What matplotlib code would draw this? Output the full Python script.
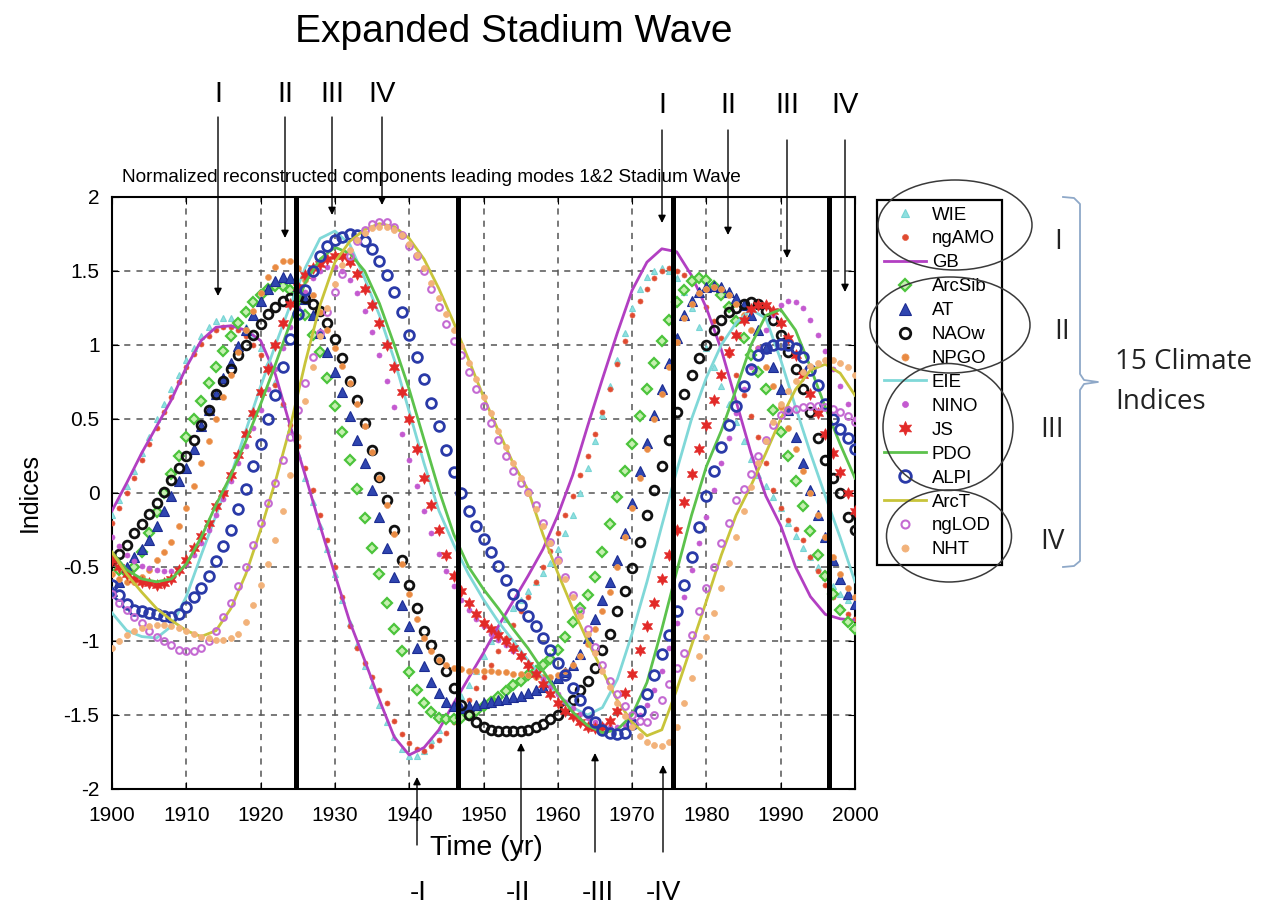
import matplotlib
matplotlib.use('Agg')
import matplotlib.pyplot as plt
from matplotlib.patches import Ellipse
from matplotlib.lines import Line2D

plt.rcParams['font.family'] = ['Liberation Sans', 'DejaVu Sans']
plt.rcParams['axes.unicode_minus'] = False

# ---------------- data ----------------
years = list(range(1900, 2001))          # annual samples (marker series)
years2 = list(range(1900, 2001, 2))      # line series samples

WIE = [-0.15, -0.05, 0.05, 0.15, 0.27, 0.38, 0.5, 0.6, 0.7, 0.8,
       0.9, 0.98, 1.06, 1.12, 1.16, 1.18, 1.18, 1.16, 1.12, 1.06,
       0.98, 0.88, 0.75, 0.6, 0.43, 0.26, 0.1, -0.06, -0.22, -0.38,
       -0.55, -0.72, -0.88, -1.03, -1.17, -1.3, -1.43, -1.55, -1.65, -1.73,
       -1.78, -1.78, -1.74, -1.67, -1.6, -1.52, -1.44, -1.37, -1.3, -1.2,
       -1.1, -1.0, -0.92, -0.85, -0.78, -0.72, -0.66, -0.6, -0.54, -0.47,
       -0.38, -0.27, -0.15, 0.0, 0.17, 0.35, 0.53, 0.72, 0.9, 1.08,
       1.25, 1.38, 1.46, 1.5, 1.52, 1.5, 1.45, 1.36, 1.25, 1.12,
       0.98, 0.85, 0.72, 0.6, 0.48, 0.35, 0.23, 0.12, 0.05, -0.03,
       -0.1, -0.2, -0.29, -0.37, -0.43, -0.5, -0.57, -0.63, -0.68, -0.72,
       -0.75]
ngAMO = [-0.2, -0.1, 0.0, 0.1, 0.22, 0.33, 0.44, 0.55, 0.65, 0.75,
         0.85, 0.94, 1.01, 1.06, 1.1, 1.12, 1.12, 1.1, 1.06, 1.0,
         0.93, 0.84, 0.73, 0.6, 0.46, 0.32, 0.17, 0.02, -0.15, -0.32,
         -0.5, -0.7, -0.9, -1.05, -1.15, -1.24, -1.33, -1.42, -1.54, -1.63,
         -1.69, -1.73, -1.74, -1.71, -1.67, -1.62, -1.55, -1.48, -1.4, -1.32,
         -1.24, -1.16, -1.07, -0.98, -0.89, -0.8, -0.7, -0.6, -0.5, -0.39,
         -0.27, -0.15, -0.02, 0.12, 0.25, 0.4, 0.55, 0.7, 0.87, 1.03,
         1.2, 1.3, 1.38, 1.45, 1.5, 1.52, 1.5, 1.47, 1.42, 1.35,
         1.26, 1.16, 1.05, 0.93, 0.8, 0.66, 0.52, 0.38, 0.2, 0.02,
         -0.1, -0.18, -0.24, -0.32, -0.43, -0.53, -0.62, -0.7, -0.77, -0.82,
         -0.85]
GB = [-0.12, 0.07, 0.27, 0.45, 0.63, 0.85, 1.03, 1.12, 1.13, 1.1,
      1.03, 0.8, 0.45, 0.12, -0.22, -0.55, -0.87, -1.13, -1.4, -1.65,
      -1.77, -1.72, -1.6, -1.42, -1.25, -1.08, -0.9, -0.73, -0.56, -0.38,
      -0.15, 0.12, 0.45, 0.77, 1.08, 1.37, 1.56, 1.65, 1.63, 1.47,
      1.25, 0.97, 0.62, 0.27, -0.02, -0.22, -0.5, -0.7, -0.82, -0.85,
      -0.86]
ArcSib = [-0.45, -0.52, -0.54, -0.5, -0.4, -0.27, -0.13, 0.0, 0.13, 0.25,
          0.38, 0.5, 0.62, 0.74, 0.85, 0.96, 1.06, 1.15, 1.22, 1.29,
          1.34, 1.38, 1.4, 1.4, 1.37, 1.3, 1.2, 1.07, 0.95, 0.78,
          0.59, 0.41, 0.22, 0.03, -0.17, -0.37, -0.55, -0.74, -0.92, -1.07,
          -1.21, -1.33, -1.42, -1.48, -1.52, -1.53, -1.53, -1.52, -1.5, -1.47,
          -1.44, -1.41, -1.38, -1.34, -1.3, -1.27, -1.23, -1.2, -1.16, -1.12,
          -1.06, -0.97, -0.87, -0.78, -0.69, -0.57, -0.4, -0.21, -0.03, 0.15,
          0.33, 0.52, 0.7, 0.88, 1.03, 1.17, 1.29, 1.37, 1.43, 1.45,
          1.44, 1.4, 1.34, 1.26, 1.16, 1.05, 0.93, 0.82, 0.7, 0.56,
          0.41, 0.25, 0.08, -0.09, -0.26, -0.42, -0.56, -0.68, -0.79, -0.87,
          -0.92]
AT = [-0.66, -0.6, -0.5, -0.43, -0.38, -0.32, -0.22, -0.12, -0.02, 0.08,
      0.17, 0.3, 0.45, 0.56, 0.67, 0.78, 0.88, 0.99, 1.1, 1.2,
      1.3, 1.38, 1.43, 1.46, 1.45, 1.4, 1.31, 1.2, 1.08, 0.95,
      0.82, 0.68, 0.52, 0.36, 0.2, 0.02, -0.16, -0.37, -0.57, -0.76,
      -0.9, -1.05, -1.17, -1.28, -1.35, -1.41, -1.44, -1.45, -1.44, -1.43,
      -1.42, -1.41, -1.4, -1.39, -1.38, -1.37, -1.35, -1.33, -1.31, -1.28,
      -1.25, -1.21, -1.16, -1.09, -0.98, -0.85, -0.72, -0.6, -0.45, -0.27,
      -0.07, 0.15, 0.34, 0.53, 0.7, 0.88, 1.05, 1.2, 1.3, 1.36,
      1.39, 1.4, 1.39, 1.36, 1.32, 1.27, 1.2, 1.1, 0.98, 0.85,
      0.7, 0.56, 0.38, 0.2, 0.02, -0.15, -0.3, -0.45, -0.58, -0.68,
      -0.75]
NAOw = [-0.45, -0.41, -0.35, -0.27, -0.21, -0.14, -0.07, 0.01, 0.09, 0.17,
        0.25, 0.36, 0.46, 0.56, 0.67, 0.76, 0.84, 0.93, 1.0, 1.07,
        1.14, 1.21, 1.26, 1.3, 1.32, 1.33, 1.32, 1.28, 1.23, 1.15,
        1.04, 0.91, 0.76, 0.63, 0.47, 0.29, 0.11, -0.05, -0.25, -0.45,
        -0.62, -0.78, -0.93, -1.03, -1.12, -1.2, -1.32, -1.43, -1.5, -1.55,
        -1.58, -1.6, -1.61, -1.61, -1.61, -1.61, -1.6, -1.58, -1.56, -1.53,
        -1.5, -1.45, -1.4, -1.33, -1.27, -1.18, -1.06, -0.95, -0.8, -0.66,
        -0.51, -0.33, -0.15, 0.02, 0.18, 0.36, 0.55, 0.67, 0.8, 0.91,
        1.0, 1.1, 1.17, 1.22, 1.25, 1.28, 1.29, 1.28, 1.23, 1.17,
        1.07, 0.95, 0.84, 0.7, 0.55, 0.37, 0.22, 0.1, 0.0, -0.16,
        -0.25]
NPGO = [-0.55, -0.58, -0.6, -0.6, -0.57, -0.52, -0.45, -0.4, -0.33, -0.22,
        -0.1, 0.05, 0.2, 0.35, 0.5, 0.65, 0.8, 0.95, 1.1, 1.23,
        1.35, 1.46, 1.53, 1.57, 1.57, 1.52, 1.44, 1.34, 1.22, 1.1,
        0.98, 0.86, 0.74, 0.6, 0.45, 0.28, 0.1, -0.08, -0.28, -0.48,
        -0.68, -0.85, -0.98, -1.07, -1.13, -1.16, -1.18, -1.19, -1.2, -1.2,
        -1.2, -1.2, -1.21, -1.21, -1.22, -1.22, -1.23, -1.24, -1.24, -1.24,
        -1.23, -1.2, -1.16, -1.1, -1.02, -0.92, -0.8, -0.67, -0.5, -0.3,
        -0.1, 0.1, 0.3, 0.5, 0.67, 0.85, 1.02, 1.18, 1.28, 1.35,
        1.38, 1.39, 1.38, 1.34, 1.28, 1.2, 1.1, 0.98, 0.85, 0.72,
        0.58, 0.44, 0.3, 0.15, 0.0, -0.15, -0.3, -0.43, -0.55, -0.64,
        -0.7]
EIE = [-0.81, -0.93, -0.97, -0.98, -0.9, -0.7, -0.42, -0.15, 0.12, 0.42,
       0.72, 1.0, 1.27, 1.52, 1.72, 1.77, 1.68, 1.45, 1.2, 0.9,
       0.55, 0.2, -0.12, -0.35, -0.55, -0.72, -0.87, -1.0, -1.13, -1.25,
       -1.36, -1.45, -1.5, -1.45, -1.26, -0.95, -0.6, -0.22, 0.15, 0.5,
       0.78, 1.0, 1.15, 1.24, 1.18, 0.9, 0.58, 0.27, -0.02, -0.3,
       -0.6]
NINO = [-0.3, -0.36, -0.42, -0.46, -0.49, -0.51, -0.52, -0.53, -0.53, -0.52,
        -0.48, -0.42, -0.34, -0.25, -0.15, -0.04, 0.08, 0.2, 0.32, 0.44,
        0.56, 0.7, 0.84, 0.98, 1.12, 1.25, 1.36, 1.45, 1.5, 1.53,
        1.53, 1.5, 1.44, 1.35, 1.23, 1.09, 0.93, 0.76, 0.58, 0.4,
        0.22, 0.05, -0.12, -0.27, -0.41, -0.53, -0.63, -0.72, -0.79, -0.85,
        -0.9, -0.95, -0.99, -1.03, -1.07, -1.11, -1.16, -1.21, -1.26, -1.31,
        -1.36, -1.41, -1.45, -1.49, -1.52, -1.55, -1.57, -1.58, -1.58, -1.57,
        -1.55, -1.5, -1.43, -1.33, -1.2, -1.05, -0.88, -0.7, -0.52, -0.34,
        -0.16, 0.02, 0.2, 0.37, 0.54, 0.7, 0.85, 0.98, 1.1, 1.2,
        1.27, 1.3, 1.29, 1.25, 1.17, 1.07, 0.96, 0.84, 0.72, 0.6,
        0.5]
JS = [-0.45, -0.5, -0.55, -0.58, -0.6, -0.61, -0.62, -0.61, -0.58, -0.52,
      -0.45, -0.37, -0.29, -0.2, -0.09, 0.0, 0.12, 0.26, 0.4, 0.54,
      0.68, 0.84, 1.0, 1.15, 1.28, 1.39, 1.47, 1.52, 1.55, 1.58,
      1.6, 1.6, 1.56, 1.48, 1.38, 1.27, 1.15, 1.0, 0.85, 0.68,
      0.5, 0.3, 0.1, -0.08, -0.25, -0.42, -0.56, -0.66, -0.74, -0.82,
      -0.88, -0.92, -0.96, -1.0, -1.05, -1.1, -1.16, -1.22, -1.29, -1.36,
      -1.42, -1.47, -1.51, -1.55, -1.58, -1.59, -1.58, -1.54, -1.47, -1.35,
      -1.22, -1.06, -0.9, -0.74, -0.58, -0.42, -0.25, -0.06, 0.13, 0.3,
      0.46, 0.63, 0.8, 0.95, 1.07, 1.17, 1.24, 1.27, 1.27, 1.23,
      1.15, 1.05, 0.93, 0.8, 0.67, 0.54, 0.4, 0.27, 0.14, 0.0,
      -0.12]
PDO = [-0.4, -0.52, -0.58, -0.6, -0.58, -0.48, -0.3, -0.08, 0.12, 0.35,
       0.6, 0.87, 1.15, 1.42, 1.58, 1.66, 1.62, 1.5, 1.28, 1.0,
       0.7, 0.36, 0.02, -0.28, -0.5, -0.65, -0.78, -0.92, -1.05, -1.2,
       -1.35, -1.48, -1.57, -1.62, -1.6, -1.5, -1.28, -0.92, -0.53, -0.15,
       0.18, 0.42, 0.7, 1.0, 1.2, 1.24, 1.1, 0.85, 0.58, 0.33,
       0.1]
ALPI = [-0.62, -0.69, -0.75, -0.79, -0.8, -0.81, -0.82, -0.83, -0.84, -0.82,
        -0.77, -0.7, -0.64, -0.56, -0.46, -0.36, -0.25, -0.11, 0.03, 0.18,
        0.33, 0.5, 0.66, 0.85, 1.04, 1.21, 1.37, 1.5, 1.6, 1.67,
        1.71, 1.73, 1.75, 1.74, 1.7, 1.65, 1.57, 1.47, 1.36, 1.22,
        1.07, 0.92, 0.77, 0.61, 0.45, 0.29, 0.14, 0.0, -0.12, -0.22,
        -0.31, -0.4, -0.49, -0.59, -0.68, -0.76, -0.83, -0.9, -0.98, -1.06,
        -1.15, -1.23, -1.32, -1.4, -1.48, -1.55, -1.6, -1.62, -1.63, -1.62,
        -1.56, -1.47, -1.36, -1.23, -1.09, -0.96, -0.8, -0.62, -0.43, -0.23,
        -0.02, 0.15, 0.31, 0.46, 0.59, 0.72, 0.84, 0.93, 0.98, 1.0,
        1.01, 1.0, 0.98, 0.92, 0.83, 0.73, 0.6, 0.5, 0.43, 0.37,
        0.3]
ArcT = [-0.4, -0.55, -0.67, -0.78, -0.86, -0.93, -0.97, -0.93, -0.78, -0.55,
        -0.25, 0.08, 0.45, 0.88, 1.27, 1.56, 1.7, 1.78, 1.82, 1.8,
        1.72, 1.58, 1.38, 1.15, 0.9, 0.65, 0.42, 0.2, 0.02, -0.28,
        -0.54, -0.78, -1.0, -1.2, -1.4, -1.55, -1.64, -1.6, -1.33, -1.03,
        -0.73, -0.42, -0.15, 0.05, 0.27, 0.5, 0.7, 0.83, 0.87, 0.81,
        0.66]
ngLOD = [-0.68, -0.74, -0.79, -0.84, -0.88, -0.93, -0.97, -1.0, -1.03, -1.06,
         -1.07, -1.07, -1.05, -1.0, -0.93, -0.84, -0.74, -0.63, -0.5, -0.35,
         -0.2, -0.07, 0.07, 0.22, 0.38, 0.56, 0.74, 0.92, 1.08, 1.22,
         1.36, 1.48, 1.6, 1.7, 1.78, 1.82, 1.83, 1.83, 1.8, 1.74,
         1.67, 1.6, 1.5, 1.38, 1.26, 1.14, 1.03, 0.93, 0.82, 0.7,
         0.59, 0.47, 0.36, 0.25, 0.15, 0.07, 0.01, -0.08, -0.2, -0.33,
         -0.45, -0.57, -0.69, -0.8, -0.92, -1.04, -1.16, -1.27, -1.36, -1.44,
         -1.5, -1.54, -1.55, -1.5, -1.4, -1.29, -1.18, -1.08, -0.96, -0.8,
         -0.64, -0.5, -0.34, -0.2, -0.05, 0.03, 0.13, 0.25, 0.36, 0.46,
         0.53, 0.56, 0.57, 0.58, 0.59, 0.59, 0.58, 0.57, 0.55, 0.52,
         0.48]
NHT = [-1.05, -1.0, -0.96, -0.93, -0.91, -0.9, -0.89, -0.89, -0.9, -0.91,
       -0.93, -0.95, -0.97, -0.98, -0.99, -0.99, -0.98, -0.95, -0.87, -0.76,
       -0.62, -0.48, -0.32, -0.12, 0.12, 0.38, 0.62, 0.85, 1.06, 1.25,
       1.41, 1.54, 1.64, 1.71, 1.76, 1.79, 1.8, 1.8, 1.78, 1.74,
       1.68, 1.61, 1.52, 1.42, 1.32, 1.21, 1.1, 0.99, 0.88, 0.77,
       0.65, 0.54, 0.42, 0.31, 0.2, 0.1, 0.0, -0.11, -0.22, -0.34,
       -0.46, -0.58, -0.7, -0.83, -0.95, -1.08, -1.2, -1.31, -1.42, -1.51,
       -1.58, -1.64, -1.68, -1.7, -1.71, -1.68, -1.58, -1.42, -1.25, -1.1,
       -0.97, -0.81, -0.64, -0.47, -0.3, -0.12, 0.04, 0.2, 0.35, 0.48,
       0.6, 0.69, 0.76, 0.82, 0.86, 0.88, 0.9, 0.9, 0.88, 0.85,
       0.8]

phase_bounds = [1924.8, 1946.6, 1975.5, 1996.5]
xticks = [1900, 1910, 1920, 1930, 1940, 1950, 1960, 1970, 1980, 1990, 2000]
yticks = [-2, -1.5, -1, -0.5, 0, 0.5, 1, 1.5, 2]
ytick_labels = ['-2', '-1.5', '-1', '-0.5', '0', '0.5', '1', '1.5', '2']

# ---------------- figure ----------------
W, H = 1277, 910
fig = plt.figure(figsize=(W / 100, H / 100), dpi=100)
ax = fig.add_axes([112 / W, 1 - 789 / H, 743 / W, 592 / H])


def fx(px):
    return px / W


def fy(py):
    return 1 - py / H


series = [
    ('WIE', years, WIE, dict(ls='none', marker='^', ms=5, mfc='#8fe0e0', mec='#78d4d4', mew=0.8)),
    ('ngAMO', years, ngAMO, dict(ls='none', marker='o', ms=3.6, mfc='#e04a30', mec='#e46046', mew=0.5)),
    ('GB', years2, GB, dict(ls='-', lw=2, color='#b23fc2')),
    ('ArcSib', years, ArcSib, dict(ls='none', marker='D', ms=5.2, mfc='#c6f0b0', mec='#4cc43c', mew=1.6)),
    ('AT', years, AT, dict(ls='none', marker='^', ms=7.5, mfc='#2f45b0', mec='#1c2c92', mew=0.8)),
    ('NAOw', years, NAOw, dict(ls='none', marker='o', ms=6.3, mfc='none', mec='#111111', mew=2)),
    ('NPGO', years, NPGO, dict(ls='none', marker='o', ms=4.3, mfc='#e98a42', mec='#f0a062', mew=0.5)),
    ('EIE', years2, EIE, dict(ls='-', lw=2, color='#80d8d8')),
    ('NINO', years, NINO, dict(ls='none', marker='o', ms=3.6, mfc='#c45ad0', mec='#c45ad0', mew=0.5)),
    ('JS', years, JS, dict(ls='none', marker=(6, 1, 0), ms=8.5, mfc='#e22a28', mec='#e22a28', mew=0.5)),
    ('PDO', years2, PDO, dict(ls='-', lw=2, color='#5cc24c')),
    ('ALPI', years, ALPI, dict(ls='none', marker='o', ms=7, mfc='none', mec='#2a3aa8', mew=2)),
    ('ArcT', years2, ArcT, dict(ls='-', lw=2, color='#c8c43a')),
    ('ngLOD', years, ngLOD, dict(ls='none', marker='o', ms=4.8, mfc='none', mec='#c46ad2', mew=1.5)),
    ('NHT', years, NHT, dict(ls='none', marker='o', ms=4.3, mfc='#f2b27a', mec='#f2b27a', mew=0.5)),
]

handles = []
for i, (name, xs, ys, st) in enumerate(series):
    h, = ax.plot(xs, ys, label=name, zorder=3 + i * 0.01, **st)
    handles.append(h)

for xb in phase_bounds:
    ax.axvline(xb, color='black', lw=3.6, zorder=6)

ax.set_xlim(1900, 2000)
ax.set_ylim(-2, 2)
ax.set_xticks(xticks)
ax.set_xticklabels([str(t) for t in xticks])
ax.set_yticks(yticks)
ax.set_yticklabels(ytick_labels)
ax.tick_params(direction='in', length=5, top=True, right=True, labelsize=15)
ax.tick_params(axis='x', pad=12)
ax.tick_params(axis='y', pad=9)
ax.grid(True, color='#555555', linestyle=(0, (4, 4)), lw=1.1)
ax.set_axisbelow(True)
for sp in ax.spines.values():
    sp.set_linewidth(1.5)

# axis labels
fig.text(fx(30), fy(493), 'Indices', rotation=90, ha='center', va='center', fontsize=18)
fig.text(fx(486), fy(848), 'Time (yr)', ha='center', va='center', fontsize=20.5)

# title and subtitle
fig.text(fx(514), fy(32), 'Expanded Stadium Wave', ha='center', va='center', fontsize=28)
fig.text(fx(122), fy(177), 'Normalized reconstructed components leading modes 1&2 Stadium Wave',
         ha='left', va='center', fontsize=13.7)

# legend
leg = ax.legend(handles=handles, loc='upper left', bbox_to_anchor=(fx(877), fy(200)),
                bbox_transform=fig.transFigure, frameon=True, fancybox=False,
                edgecolor='black', framealpha=1, borderpad=0.35, labelspacing=0.37,
                handlelength=2.3, handletextpad=0.3, borderaxespad=0, fontsize=13.4,
                numpoints=1, markerscale=1.2)
leg.get_frame().set_linewidth(1.6)

# group ellipses round the legend
for cx, cy, ew, eh in [(955, 225, 154, 90), (950, 325, 160, 96),
                       (948, 427, 130, 127), (949, 536, 125, 92)]:
    fig.add_artist(Ellipse((fx(cx), fy(cy)), ew / W, eh / H, transform=fig.transFigure,
                           fill=False, edgecolor='#3a3a3a', lw=1.1, zorder=10))

# brace
bx = [1063, 1074, 1080, 1080, 1084, 1098, 1084, 1080, 1080, 1074, 1063]
by = [197, 198, 204, 374, 380, 382, 384, 390, 561, 566, 567]
fig.add_artist(Line2D([fx(v) for v in bx], [fy(v) for v in by], transform=fig.transFigure,
                      color='#8ea8c8', lw=1.3))

for lab, x, y in [('I', 1058, 242), ('II', 1062, 332), ('III', 1052, 430), ('IV', 1052, 542)]:
    fig.text(fx(x), fy(y), lab, ha='center', va='center', fontsize=20, family=['Open Sans', 'DejaVu Sans'],
             color='#222222')
fig.text(fx(1115), fy(362), '15 Climate', ha='left', va='center', fontsize=20,
         family=['Open Sans', 'DejaVu Sans'], color='#222222')
fig.text(fx(1115), fy(402), 'Indices', ha='left', va='center', fontsize=20,
         family=['Open Sans', 'DejaVu Sans'], color='#222222')

# top phase arrows
top_arrows = [('I', 218, 94, 117, 296), ('II', 285, 94, 117, 238),
              ('III', 332, 94, 117, 215), ('IV', 382, 94, 117, 205),
              ('I', 662, 105, 130, 223), ('II', 728, 105, 130, 235),
              ('III', 787, 105, 140, 258), ('IV', 845, 105, 140, 292)]
for lab, x, ylab, ytop, yhead in top_arrows:
    fig.text(fx(x), fy(ylab), lab, ha='center', va='center', fontsize=21)
    ax.annotate('', xy=(x, H - yhead), xytext=(x, H - ytop), xycoords='figure pixels',
                textcoords='figure pixels', annotation_clip=False,
                arrowprops=dict(arrowstyle='-|>', color='black', lw=1.0,
                                mutation_scale=11, shrinkA=0, shrinkB=0), zorder=8)

# bottom phase arrows
bottom_arrows = [('-I', 418, 417, 893, 845, 777), ('-II', 518, 521, 893, 852, 743),
                 ('-III', 598, 595, 893, 852, 753), ('-IV', 663, 663, 893, 852, 765)]
for lab, xl, x, ylab, ybot, yhead in bottom_arrows:
    fig.text(fx(xl), fy(ylab), lab, ha='center', va='center', fontsize=20)
    ax.annotate('', xy=(x, H - yhead), xytext=(x, H - ybot), xycoords='figure pixels',
                textcoords='figure pixels', annotation_clip=False,
                arrowprops=dict(arrowstyle='-|>', color='black', lw=1.0,
                                mutation_scale=11, shrinkA=0, shrinkB=0), zorder=8)

fig.savefig('out.png', dpi=100)
